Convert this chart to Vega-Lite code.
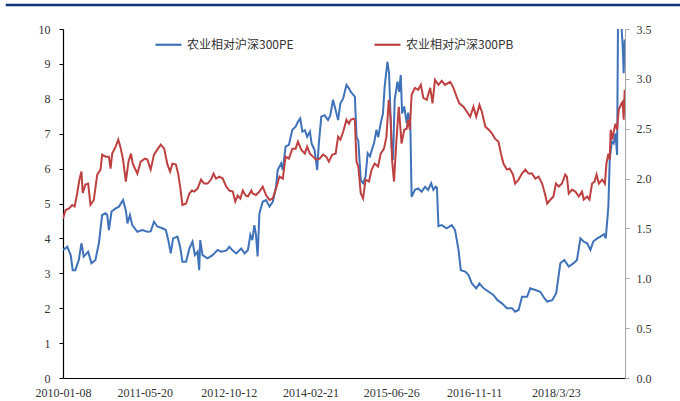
{
  "$schema": "https://vega.github.io/schema/vega-lite/v6.json",
  "width": 562,
  "height": 349,
  "autosize": {"type": "none"},
  "padding": {"left": 63, "top": 29, "right": 55, "bottom": 23},
  "background": "white",
  "config": {
    "view": {"stroke": null},
    "axis": {"grid": false, "labelFont": "Liberation Serif", "labelFontSize": 12, "labelColor": "#333333"}
  },
  "datasets": {
    "pe": [
      {"date":"2010-01-08","v":3.67},{"date":"2010-01-24","v":3.72},{"date":"2010-02-03","v":3.76},{"date":"2010-02-24","v":3.52},{"date":"2010-03-08","v":3.09},{"date":"2010-03-24","v":3.09},{"date":"2010-04-14","v":3.38},{"date":"2010-04-30","v":3.86},{"date":"2010-05-14","v":3.48},{"date":"2010-06-10","v":3.62},{"date":"2010-06-30","v":3.29},{"date":"2010-07-24","v":3.38},{"date":"2010-08-14","v":3.86},{"date":"2010-09-03","v":4.67},{"date":"2010-09-24","v":4.72},{"date":"2010-10-04","v":4.67},{"date":"2010-10-14","v":4.24},{"date":"2010-10-30","v":4.77},{"date":"2010-11-24","v":4.86},{"date":"2010-12-14","v":4.91},
      {"date":"2011-01-08","v":5.10},{"date":"2011-01-25","v":4.80},{"date":"2011-02-04","v":4.43},{"date":"2011-02-19","v":4.67},{"date":"2011-03-05","v":4.38},{"date":"2011-04-05","v":4.19},{"date":"2011-05-05","v":4.24},{"date":"2011-06-05","v":4.19},{"date":"2011-06-25","v":4.20},{"date":"2011-07-15","v":4.48},{"date":"2011-08-04","v":4.34},{"date":"2011-09-04","v":4.29},{"date":"2011-09-25","v":4.24},{"date":"2011-10-10","v":3.95},{"date":"2011-10-25","v":3.57},{"date":"2011-11-08","v":4.00},{"date":"2011-12-05","v":4.05},{"date":"2011-12-21","v":3.76},
      {"date":"2012-01-04","v":3.33},{"date":"2012-01-26","v":3.33},{"date":"2012-02-15","v":3.71},{"date":"2012-03-05","v":3.91},{"date":"2012-03-20","v":3.52},{"date":"2012-04-05","v":3.62},{"date":"2012-04-15","v":3.09},{"date":"2012-04-21","v":3.95},{"date":"2012-05-05","v":3.52},{"date":"2012-06-05","v":3.43},{"date":"2012-07-05","v":3.52},{"date":"2012-08-05","v":3.67},{"date":"2012-08-26","v":3.62},{"date":"2012-09-26","v":3.65},{"date":"2012-10-15","v":3.76},{"date":"2012-11-05","v":3.65},{"date":"2012-11-26","v":3.57},{"date":"2012-12-26","v":3.71},
      {"date":"2013-01-16","v":3.57},{"date":"2013-02-05","v":3.67},{"date":"2013-02-20","v":4.10},{"date":"2013-03-04","v":3.95},{"date":"2013-03-16","v":4.38},{"date":"2013-03-26","v":4.10},{"date":"2013-04-05","v":3.48},{"date":"2013-04-16","v":4.72},{"date":"2013-05-06","v":5.05},{"date":"2013-05-26","v":5.10},{"date":"2013-06-16","v":4.91},{"date":"2013-07-06","v":5.05},{"date":"2013-07-26","v":5.48},{"date":"2013-08-05","v":5.96},{"date":"2013-08-26","v":6.15},{"date":"2013-09-05","v":5.96},{"date":"2013-09-22","v":6.63},{"date":"2013-10-12","v":6.68},{"date":"2013-11-02","v":7.11},{"date":"2013-11-22","v":7.20},{"date":"2013-12-06","v":7.34},{"date":"2013-12-20","v":7.44},
      {"date":"2014-01-02","v":7.06},{"date":"2014-01-17","v":7.10},{"date":"2014-01-31","v":6.91},{"date":"2014-02-17","v":7.06},{"date":"2014-02-27","v":6.72},{"date":"2014-03-17","v":6.53},{"date":"2014-04-02","v":5.96},{"date":"2014-04-12","v":6.72},{"date":"2014-04-27","v":7.49},{"date":"2014-05-17","v":7.53},{"date":"2014-06-07","v":7.39},{"date":"2014-06-21","v":7.53},{"date":"2014-07-07","v":7.97},{"date":"2014-07-23","v":7.68},{"date":"2014-08-07","v":7.39},{"date":"2014-08-21","v":7.87},{"date":"2014-09-07","v":8.01},{"date":"2014-09-27","v":8.40},{"date":"2014-10-12","v":8.30},{"date":"2014-10-23","v":8.20},{"date":"2014-11-17","v":8.06},{"date":"2014-11-27","v":6.91},{"date":"2014-12-08","v":6.80},{"date":"2014-12-23","v":5.67},
      {"date":"2015-01-06","v":5.58},{"date":"2015-01-21","v":5.77},{"date":"2015-02-03","v":6.44},{"date":"2015-02-17","v":6.35},{"date":"2015-03-03","v":6.58},{"date":"2015-03-14","v":6.73},{"date":"2015-03-28","v":7.11},{"date":"2015-04-08","v":6.90},{"date":"2015-04-23","v":7.30},{"date":"2015-05-07","v":7.58},{"date":"2015-05-17","v":8.35},{"date":"2015-06-03","v":9.06},{"date":"2015-06-13","v":8.73},{"date":"2015-06-28","v":6.63},{"date":"2015-07-07","v":6.25},{"date":"2015-07-17","v":7.97},{"date":"2015-08-03","v":8.49},{"date":"2015-08-13","v":8.20},{"date":"2015-08-23","v":8.68},{"date":"2015-08-31","v":7.58},{"date":"2015-09-13","v":7.78},{"date":"2015-09-28","v":7.30},{"date":"2015-10-07","v":7.60},{"date":"2015-10-20","v":7.30},{"date":"2015-10-28","v":5.19},{"date":"2015-11-17","v":5.39},{"date":"2015-12-07","v":5.43},{"date":"2015-12-28","v":5.34},
      {"date":"2016-01-18","v":5.48},{"date":"2016-02-05","v":5.39},{"date":"2016-02-24","v":5.58},{"date":"2016-03-08","v":5.39},{"date":"2016-03-22","v":5.48},{"date":"2016-03-30","v":5.45},{"date":"2016-04-08","v":4.35},{"date":"2016-04-28","v":4.38},{"date":"2016-05-28","v":4.29},{"date":"2016-06-28","v":4.38},{"date":"2016-07-18","v":4.24},{"date":"2016-08-08","v":3.67},{"date":"2016-08-22","v":3.09},{"date":"2016-09-18","v":3.05},{"date":"2016-10-08","v":2.95},{"date":"2016-10-28","v":2.71},{"date":"2016-11-24","v":2.57},{"date":"2016-12-13","v":2.71},
      {"date":"2017-01-08","v":2.57},{"date":"2017-02-08","v":2.47},{"date":"2017-03-08","v":2.38},{"date":"2017-04-02","v":2.23},{"date":"2017-04-29","v":2.14},{"date":"2017-05-29","v":2.00},{"date":"2017-06-29","v":2.00},{"date":"2017-07-18","v":1.90},{"date":"2017-08-08","v":1.95},{"date":"2017-08-29","v":2.33},{"date":"2017-09-29","v":2.33},{"date":"2017-10-18","v":2.57},{"date":"2017-11-18","v":2.52},{"date":"2017-12-18","v":2.47},
      {"date":"2018-01-13","v":2.28},{"date":"2018-01-29","v":2.19},{"date":"2018-03-01","v":2.23},{"date":"2018-03-25","v":2.43},{"date":"2018-04-19","v":3.29},{"date":"2018-05-13","v":3.38},{"date":"2018-06-09","v":3.19},{"date":"2018-07-09","v":3.29},{"date":"2018-07-29","v":3.38},{"date":"2018-08-19","v":4.00},{"date":"2018-09-07","v":3.91},{"date":"2018-09-29","v":3.86},{"date":"2018-10-19","v":3.67},{"date":"2018-11-05","v":3.91},{"date":"2018-11-29","v":4.00},{"date":"2018-12-19","v":4.05},
      {"date":"2019-01-09","v":4.12},{"date":"2019-01-20","v":4.00},{"date":"2019-02-05","v":4.91},{"date":"2019-02-13","v":6.25},{"date":"2019-02-26","v":6.77},{"date":"2019-03-09","v":6.72},{"date":"2019-03-20","v":7.01},{"date":"2019-03-30","v":6.39},{"date":"2019-04-05","v":10.6},{"date":"2019-04-19","v":10.6},{"date":"2019-05-03","v":9.49},{"date":"2019-05-09","v":8.73},{"date":"2019-05-15","v":9.70}
    ],
    "pb": [
      {"date":"2010-01-08","v":1.60},{"date":"2010-01-24","v":1.685},{"date":"2010-02-14","v":1.70},{"date":"2010-03-05","v":1.735},{"date":"2010-03-20","v":1.72},{"date":"2010-04-04","v":1.85},{"date":"2010-04-18","v":1.99},{"date":"2010-04-30","v":2.07},{"date":"2010-05-08","v":1.855},{"date":"2010-05-24","v":1.94},{"date":"2010-06-10","v":1.95},{"date":"2010-06-24","v":1.735},{"date":"2010-07-14","v":1.785},{"date":"2010-08-04","v":2.04},{"date":"2010-08-24","v":2.09},{"date":"2010-09-03","v":2.24},{"date":"2010-09-24","v":2.22},{"date":"2010-10-14","v":2.22},{"date":"2010-10-24","v":2.10},{"date":"2010-11-03","v":2.25},{"date":"2010-11-24","v":2.32},{"date":"2010-12-10","v":2.39},{"date":"2010-12-24","v":2.31},
      {"date":"2011-01-08","v":2.19},{"date":"2011-01-25","v":1.97},{"date":"2011-02-10","v":2.17},{"date":"2011-02-25","v":2.25},{"date":"2011-03-08","v":2.15},{"date":"2011-04-05","v":2.05},{"date":"2011-04-25","v":2.17},{"date":"2011-05-21","v":2.20},{"date":"2011-06-05","v":2.19},{"date":"2011-06-25","v":2.09},{"date":"2011-07-15","v":2.24},{"date":"2011-08-04","v":2.29},{"date":"2011-08-25","v":2.34},{"date":"2011-09-15","v":2.30},{"date":"2011-10-05","v":2.14},{"date":"2011-10-21","v":2.07},{"date":"2011-11-04","v":2.15},{"date":"2011-11-25","v":2.14},{"date":"2011-12-09","v":2.05},{"date":"2011-12-21","v":1.92},
      {"date":"2012-01-04","v":1.735},{"date":"2012-01-26","v":1.75},{"date":"2012-02-15","v":1.85},{"date":"2012-03-02","v":1.88},{"date":"2012-03-15","v":1.87},{"date":"2012-04-05","v":1.90},{"date":"2012-04-26","v":1.99},{"date":"2012-05-15","v":1.95},{"date":"2012-06-05","v":1.95},{"date":"2012-06-26","v":1.99},{"date":"2012-07-11","v":2.05},{"date":"2012-07-26","v":2.00},{"date":"2012-08-15","v":2.02},{"date":"2012-09-05","v":2.00},{"date":"2012-09-26","v":1.92},{"date":"2012-10-15","v":1.88},{"date":"2012-11-05","v":1.87},{"date":"2012-11-20","v":1.77},{"date":"2012-12-05","v":1.83},{"date":"2012-12-21","v":1.80},
      {"date":"2013-01-05","v":1.88},{"date":"2013-01-22","v":1.83},{"date":"2013-02-05","v":1.82},{"date":"2013-02-26","v":1.88},{"date":"2013-03-06","v":1.85},{"date":"2013-03-26","v":1.835},{"date":"2013-04-16","v":1.87},{"date":"2013-05-06","v":1.92},{"date":"2013-05-26","v":1.835},{"date":"2013-06-16","v":1.785},{"date":"2013-07-06","v":1.80},{"date":"2013-07-26","v":1.90},{"date":"2013-08-16","v":2.02},{"date":"2013-09-05","v":2.00},{"date":"2013-09-22","v":2.22},{"date":"2013-10-12","v":2.20},{"date":"2013-11-02","v":2.30},{"date":"2013-11-22","v":2.30},{"date":"2013-12-06","v":2.37},{"date":"2013-12-26","v":2.29},
      {"date":"2014-01-17","v":2.25},{"date":"2014-01-31","v":2.32},{"date":"2014-02-17","v":2.25},{"date":"2014-03-07","v":2.22},{"date":"2014-03-27","v":2.19},{"date":"2014-04-17","v":2.20},{"date":"2014-05-07","v":2.24},{"date":"2014-05-27","v":2.22},{"date":"2014-06-12","v":2.17},{"date":"2014-07-03","v":2.24},{"date":"2014-07-23","v":2.25},{"date":"2014-08-07","v":2.42},{"date":"2014-08-21","v":2.39},{"date":"2014-09-07","v":2.47},{"date":"2014-09-27","v":2.59},{"date":"2014-10-12","v":2.55},{"date":"2014-10-23","v":2.59},{"date":"2014-11-08","v":2.60},{"date":"2014-11-17","v":2.59},{"date":"2014-11-27","v":2.17},{"date":"2014-12-08","v":2.12},{"date":"2014-12-23","v":1.85},
      {"date":"2015-01-06","v":1.80},{"date":"2015-01-21","v":1.99},{"date":"2015-02-11","v":1.97},{"date":"2015-02-27","v":2.09},{"date":"2015-03-17","v":2.15},{"date":"2015-04-07","v":2.12},{"date":"2015-04-23","v":2.25},{"date":"2015-05-13","v":2.30},{"date":"2015-05-28","v":2.42},{"date":"2015-06-11","v":2.79},{"date":"2015-06-23","v":2.59},{"date":"2015-07-01","v":2.19},{"date":"2015-07-13","v":1.97},{"date":"2015-07-28","v":2.39},{"date":"2015-08-11","v":2.72},{"date":"2015-08-28","v":2.35},{"date":"2015-09-13","v":2.49},{"date":"2015-09-28","v":2.50},{"date":"2015-10-07","v":2.59},{"date":"2015-10-17","v":2.49},{"date":"2015-10-28","v":2.84},{"date":"2015-11-17","v":2.91},{"date":"2015-12-07","v":2.89},{"date":"2015-12-23","v":2.94},
      {"date":"2016-01-07","v":2.81},{"date":"2016-01-28","v":2.79},{"date":"2016-02-18","v":2.91},{"date":"2016-03-03","v":2.755},{"date":"2016-03-18","v":2.99},{"date":"2016-04-08","v":2.94},{"date":"2016-04-28","v":2.98},{"date":"2016-05-18","v":2.94},{"date":"2016-06-18","v":2.97},{"date":"2016-07-06","v":2.92},{"date":"2016-07-28","v":2.82},{"date":"2016-08-13","v":2.755},{"date":"2016-09-07","v":2.72},{"date":"2016-09-28","v":2.67},{"date":"2016-10-18","v":2.62},{"date":"2016-11-07","v":2.72},{"date":"2016-11-24","v":2.62},{"date":"2016-12-13","v":2.74},{"date":"2016-12-28","v":2.67},
      {"date":"2017-01-18","v":2.52},{"date":"2017-02-08","v":2.49},{"date":"2017-02-28","v":2.45},{"date":"2017-03-18","v":2.40},{"date":"2017-04-08","v":2.37},{"date":"2017-04-23","v":2.25},{"date":"2017-05-08","v":2.15},{"date":"2017-05-29","v":2.09},{"date":"2017-06-15","v":2.10},{"date":"2017-07-05","v":2.04},{"date":"2017-07-18","v":1.95},{"date":"2017-08-08","v":1.99},{"date":"2017-08-29","v":2.05},{"date":"2017-09-18","v":2.09},{"date":"2017-10-08","v":2.05},{"date":"2017-10-29","v":2.05},{"date":"2017-11-18","v":2.00},{"date":"2017-12-08","v":2.02},{"date":"2017-12-29","v":1.95},
      {"date":"2018-01-15","v":1.85},{"date":"2018-01-29","v":1.75},{"date":"2018-02-19","v":1.79},{"date":"2018-03-08","v":1.82},{"date":"2018-03-23","v":1.95},{"date":"2018-04-10","v":1.92},{"date":"2018-04-29","v":1.95},{"date":"2018-05-19","v":2.04},{"date":"2018-05-29","v":2.02},{"date":"2018-06-09","v":1.85},{"date":"2018-06-29","v":1.89},{"date":"2018-07-19","v":1.87},{"date":"2018-08-09","v":1.82},{"date":"2018-08-29","v":1.87},{"date":"2018-09-08","v":1.79},{"date":"2018-09-29","v":1.82},{"date":"2018-10-13","v":1.79},{"date":"2018-10-29","v":1.95},{"date":"2018-11-13","v":1.97},{"date":"2018-11-25","v":2.04},{"date":"2018-12-09","v":1.95},{"date":"2018-12-29","v":1.99},
      {"date":"2019-01-15","v":1.95},{"date":"2019-01-24","v":2.15},{"date":"2019-02-05","v":2.25},{"date":"2019-02-13","v":2.19},{"date":"2019-02-19","v":2.49},{"date":"2019-03-01","v":2.39},{"date":"2019-03-09","v":2.47},{"date":"2019-03-20","v":2.55},{"date":"2019-03-30","v":2.49},{"date":"2019-04-09","v":2.69},{"date":"2019-04-26","v":2.755},{"date":"2019-05-03","v":2.77},{"date":"2019-05-09","v":2.59},{"date":"2019-05-15","v":2.89}
    ]
  },
  "layer": [
    {
      "layer": [
        {
          "data": {"values": [{}]},
          "mark": {"type": "rule", "color": "#0B3B7A", "strokeWidth": 2.5, "clip": false},
          "encoding": {
            "x": {"datum": {"year": 2009, "month": 1, "date": 25, "utc": true}, "type": "temporal", "title": null},
            "x2": {"datum": {"year": 2020, "month": 4, "date": 25, "utc": true}},
            "y": {
              "datum": 10.69, "type": "quantitative", "title": null,
              "axis": {"values": [0,1,2,3,4,5,6,7,8,9,10], "format": "d", "labelOverlap": false, "domainColor": "#000000", "domainWidth": 1.2, "tickColor": "#000000", "tickSize": 4, "labelPadding": 9}
            }
          }
        },
        {
          "data": {"name": "pe"},
          "mark": {"type": "line", "strokeWidth": 2, "clip": true},
          "encoding": {
            "x": {
              "field": "date", "type": "temporal", "title": null,
              "scale": {"type": "utc", "domain": [{"year": 2010, "month": 1, "date": 8, "utc": true}, {"year": 2019, "month": 5, "date": 17, "utc": true}]},
              "axis": {
                "values": [
                  {"year": 2010, "month": 1, "date": 8, "utc": true},
                  {"year": 2011, "month": 5, "date": 20, "utc": true},
                  {"year": 2012, "month": 10, "date": 12, "utc": true},
                  {"year": 2014, "month": 2, "date": 21, "utc": true},
                  {"year": 2015, "month": 6, "date": 26, "utc": true},
                  {"year": 2016, "month": 11, "date": 11, "utc": true},
                  {"year": 2018, "month": 3, "date": 23, "utc": true}
                ],
                "labelExpr": "utcyear(datum.value) == 2018 ? '2018/3/23' : utcFormat(datum.value, '%Y-%m-%d')",
                "ticks": false, "labelPadding": 9, "domainColor": "#000000", "domainWidth": 1.2, "labelOverlap": false, "labelFlush": false
              }
            },
            "y": {
              "field": "v", "type": "quantitative", "title": null,
              "scale": {"domain": [0, 10], "nice": false, "zero": true},
              "axis": {"values": [0,1,2,3,4,5,6,7,8,9,10], "format": "d", "labelOverlap": false, "domainColor": "#000000", "domainWidth": 1.2, "tickColor": "#000000", "tickSize": 4, "labelPadding": 9}
            },
            "color": {
              "datum": "农业相对沪深300PE",
              "scale": {"domain": ["农业相对沪深300PE", "农业相对沪深300PB"], "range": ["#3F72B9", "#BE4141"]},
              "legend": {
                "orient": "none", "legendX": 91, "legendY": 1, "direction": "horizontal", "title": null,
                "symbolType": "stroke", "symbolSize": 676, "symbolStrokeWidth": 2.2,
                "labelFont": "Noto Sans CJK SC", "labelFontSize": 12, "labelColor": "#333333",
                "labelOffset": 4, "columnPadding": 76
              }
            }
          }
        }
      ]
    },
    {
      "data": {"name": "pb"},
      "mark": {"type": "line", "strokeWidth": 2, "clip": true},
      "encoding": {
        "x": {
          "field": "date", "type": "temporal", "title": null,
          "scale": {"type": "utc", "domain": [{"year": 2010, "month": 1, "date": 8, "utc": true}, {"year": 2019, "month": 5, "date": 17, "utc": true}]}
        },
        "y": {
          "field": "v", "type": "quantitative", "title": null,
          "scale": {"domain": [0, 3.5], "nice": false, "zero": true},
          "axis": {"orient": "right", "values": [0,0.5,1,1.5,2,2.5,3,3.5], "format": ".1f", "labelOverlap": false, "domainColor": "#A6A6A6", "tickColor": "#A6A6A6", "tickSize": 4, "labelPadding": 7}
        },
        "color": {"datum": "农业相对沪深300PB"}
      }
    }
  ],
  "resolve": {"scale": {"y": "independent"}}
}
